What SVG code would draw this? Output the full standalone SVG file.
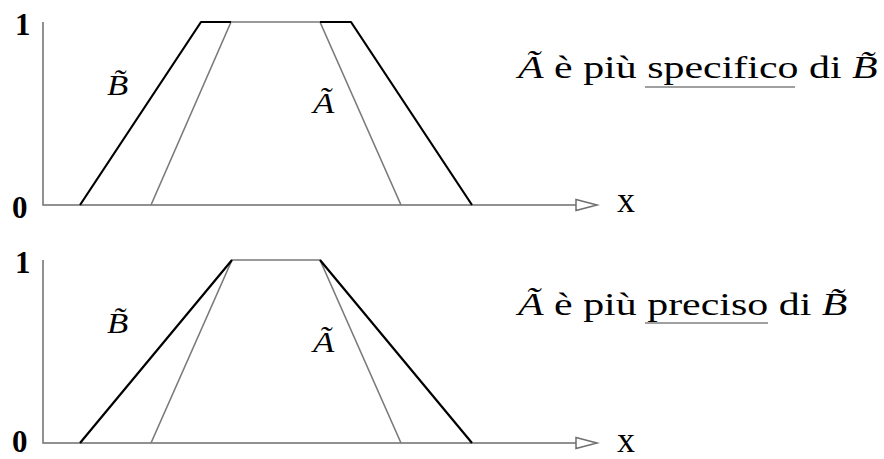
<svg xmlns="http://www.w3.org/2000/svg" width="884" height="459" viewBox="0 0 884 459">
<style>
.ax{stroke:#6e6e6e;stroke-width:1.5;fill:none}
.bk{stroke:#000;stroke-width:2.2;fill:none;stroke-linejoin:round}
.gy{stroke:#7a7a7a;stroke-width:1.6;fill:none;stroke-linejoin:round}
.hd{fill:#fff;stroke:#6e6e6e;stroke-width:1.5}
.num{font-family:"Liberation Serif",serif;font-weight:bold;font-size:31px;fill:#000}
.xl{font-family:"Liberation Serif",serif;font-size:36px;fill:#000}
.lab{font-family:"Liberation Serif",serif;font-style:italic;font-size:29px;fill:#000}
.txt{font-family:"Liberation Serif",serif;font-size:32px;fill:#000}
.ul{stroke:#808080;stroke-width:1.6}
</style>
<rect width="884" height="459" fill="#fff"/>
<g id="plot-top">
  <g id="axes-top">
    <path class="ax" d="M43,22 V205 H576"/>
    <polygon class="hd" points="576,199.5 597,205 576,210.5"/>
    <text class="num" x="15" y="35">1</text>
    <text class="num" x="12" y="218">0</text>
    <text class="xl" x="617" y="212">x</text>
  </g>
  <g id="curves-top">
    <path class="gy" d="M151,205 L231,22 H320 L401,205"/>
    <path class="bk" d="M80,205 L201,22 H231 M320,22 H351 L472,205"/>
  </g>
  <g id="labels-top">
    <text class="lab" transform="translate(107,95) scale(1.2,1)">B̃</text>
    <text class="lab" transform="translate(313,113) scale(1.2,1)">Ã</text>
    <text class="txt" transform="translate(518,78) scale(1.31,1)"><tspan font-style="italic">Ã</tspan> è più specifico di <tspan font-style="italic">B̃</tspan></text>
    <line class="ul" x1="645" y1="87" x2="795" y2="87"/>
  </g>
</g>
<g id="plot-bottom">
  <g id="axes-bottom">
    <path class="ax" d="M43,260 V443 H576"/>
    <polygon class="hd" points="576,437.5 597,443 576,448.5"/>
    <text class="num" x="15" y="273">1</text>
    <text class="num" x="12" y="452" font-size="30">0</text>
    <text class="xl" x="617" y="452">x</text>
  </g>
  <g id="curves-bottom">
    <path class="gy" d="M151,443 L232,260 H320 L401,443"/>
    <path class="bk" d="M80,443 L232,260 M320,260 L472,443"/>
  </g>
  <g id="labels-bottom">
    <text class="lab" transform="translate(107,333) scale(1.2,1)">B̃</text>
    <text class="lab" transform="translate(313,352) scale(1.2,1)">Ã</text>
    <text class="txt" transform="translate(518,315) scale(1.31,1)"><tspan font-style="italic">Ã</tspan> è più preciso di <tspan font-style="italic">B̃</tspan></text>
    <line class="ul" x1="645" y1="323" x2="768" y2="323"/>
  </g>
</g>
</svg>
